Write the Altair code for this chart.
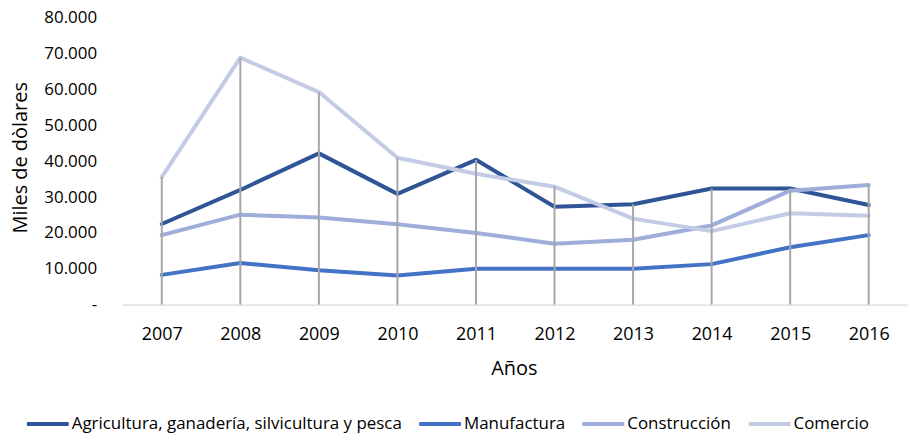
import altair as alt
import pandas as pd

years = [2007, 2008, 2009, 2010, 2011, 2012, 2013, 2014, 2015, 2016]
series_names = [
    "Agricultura, ganadería, silvicultura y pesca",
    "Manufactura",
    "Construcción",
    "Comercio",
]
agricultura = [22500, 32000, 42200, 30900, 40400, 27300, 28000, 32400, 32400, 27800]
manufactura = [8300, 11600, 9600, 8100, 10000, 10000, 10000, 11300, 16000, 19400]
construccion = [19400, 25100, 24300, 22400, 20000, 17000, 18100, 22100, 31800, 33400]
comercio = [35600, 68900, 59300, 41000, 36500, 32900, 24000, 20500, 25500, 24800]
colors = ["#2F5597", "#4472C4", "#9EADDA", "#C3CBE5"]
y_ticks = [0, 10000, 20000, 30000, 40000, 50000, 60000, 70000, 80000]

rows = []
for name, vals in zip(series_names, [agricultura, manufactura, construccion, comercio]):
    for yr, v in zip(years, vals):
        rows.append({"year": str(yr), "serie": name, "value": v})
df = pd.DataFrame(rows)

FONT = "Open Sans"

x_scale = alt.Scale(type="point", padding=0.5)
y_scale = alt.Scale(domain=[0, 80000], nice=False)

x_axis = alt.Axis(
    title="Años",
    labelAngle=0,
    labelFont=FONT,
    labelFontSize=18,
    labelColor="#000000",
    labelBaseline="alphabetic",
    labelPadding=35,
    ticks=False,
    tickSize=0,
    domainColor="#D9D9D9",
    domainWidth=1.5,
    grid=False,
    titleFont=FONT,
    titleFontSize=20,
    titleFontWeight="normal",
    titleColor="#000000",
    titleBaseline="alphabetic",
    titleX=393,
    titleY=70,
)

y_axis = alt.Axis(
    title="Miles de dòlares",
    values=y_ticks,
    tickCount=9,
    labelOverlap=False,
    labelExpr="datum.value == 0 ? '-\u00a0\u00a0' : replace(format(datum.value, ','), ',', '.')",
    labelFont=FONT,
    labelFontSize=17,
    labelColor="#000000",
    labelPadding=26,
    ticks=False,
    tickSize=0,
    domain=False,
    grid=False,
    titleFont=FONT,
    titleFontSize=20,
    titleFontWeight="normal",
    titleColor="#000000",
    titleAngle=-90,
    titleBaseline="middle",
    titleAlign="center",
    titleX=-102,
    titleY=140,
)

lines = alt.Chart(df).mark_line(strokeWidth=4, strokeCap="round", strokeJoin="round").encode(
    x=alt.X("year:O", scale=x_scale, axis=x_axis),
    y=alt.Y("value:Q", scale=y_scale, axis=y_axis),
    color=alt.Color(
        "serie:N",
        scale=alt.Scale(domain=series_names, range=colors),
        sort=series_names,
        legend=alt.Legend(
            title=None,
            orient="none",
            direction="horizontal",
            legendX=-98,
            legendY=385,
            symbolType="stroke",
            symbolSize=1764,
            symbolStrokeWidth=4,
            labelFont=FONT,
            labelFontSize=17,
            labelColor="#000000",
            labelOffset=1,
            labelLimit=600,
            columnPadding=9,
        ),
    ),
)

rules = (
    alt.Chart(df)
    .transform_aggregate(top="max(value)", groupby=["year"])
    .transform_calculate(base="0")
    .mark_rule(color="#A6A6A6", strokeWidth=2)
    .encode(
        x=alt.X("year:O", scale=x_scale, axis=x_axis),
        y=alt.Y("top:Q", scale=y_scale, axis=y_axis),
        y2=alt.Y2("base:Q"),
    )
)

chart = (
    alt.layer(lines, rules)
    .properties(
        width=789,
        height=288,
        autosize=alt.AutoSizeParams(type="none"),
        padding={"left": 115, "top": 9, "right": 0, "bottom": 129},
        background="white",
    )
    .configure_view(stroke="transparent", strokeWidth=0)
    .configure_axis(labelOverlap=False)
)

chart.save("out.html", embed_options={"renderer": "svg", "actions": False})
